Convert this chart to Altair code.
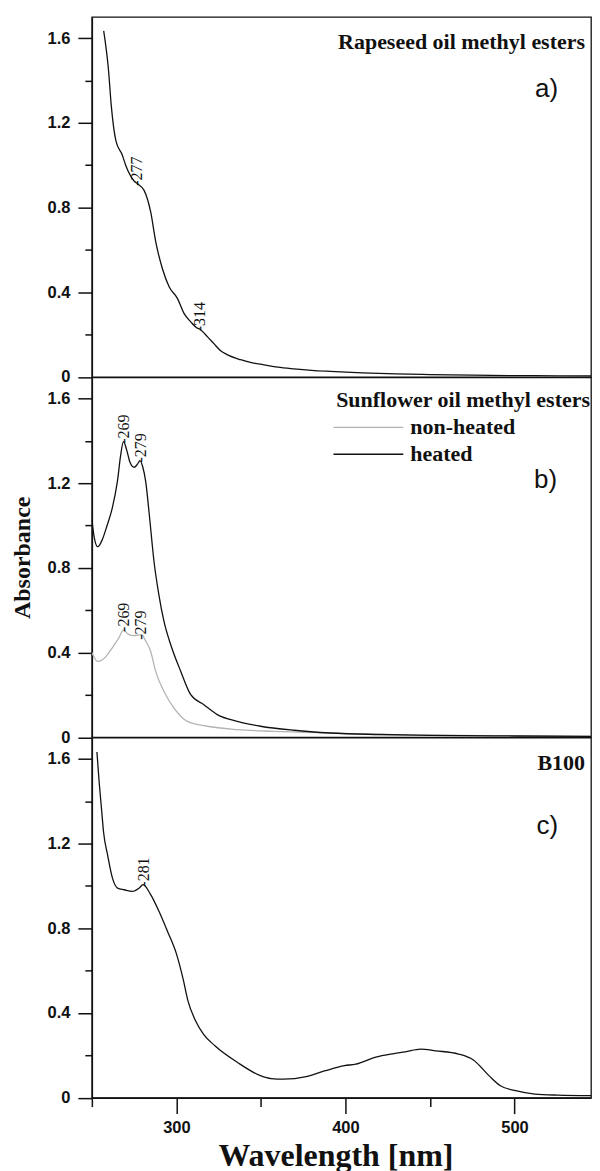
import altair as alt
import pandas as pd

# ---------------- data ----------------
# a) Rapeseed oil methyl esters
rape_nm = [257, 259.8, 261.5, 264.2, 268.1, 270, 273, 275, 277, 280.9,
           284.8, 287.8, 291.7, 295.7, 300.6, 304.5, 308.5, 312.4, 314, 316,
           318.3, 322.2, 326, 330, 338, 345, 351.7, 360, 369.5, 380,
           391, 410, 430, 450, 475, 500, 525, 550]
rape_abs = [1.634, 1.453, 1.28, 1.116, 1.046, 1.0, 0.948, 0.925, 0.912, 0.881,
            0.779, 0.638, 0.512, 0.426, 0.371, 0.30, 0.26, 0.23, 0.225, 0.21,
            0.19, 0.157, 0.125, 0.105, 0.081, 0.066, 0.057, 0.046, 0.038, 0.031,
            0.026, 0.019, 0.014, 0.011, 0.008, 0.006, 0.005, 0.004]
rape_peak_nm = [277, 314]
rape_peak_abs = [0.912, 0.225]

# b) Sunflower oil methyl esters
heated_nm = [250, 251.5, 253.5, 256, 259, 262, 265.2, 267, 268.7, 270.5,
             272.5, 275, 277, 278.5, 280, 281.9, 284, 286.8, 289.5, 292.7,
             296.7, 302.6, 308.5, 316.3, 324.2, 336, 349.8, 369.5, 391, 420,
             450, 500, 550]
heated_abs = [1.03, 0.94, 0.9, 0.93, 1.0, 1.08, 1.213, 1.33, 1.396, 1.36,
              1.30, 1.275, 1.29, 1.307, 1.28, 1.205, 1.05, 0.828, 0.68, 0.546,
              0.436, 0.311, 0.201, 0.154, 0.107, 0.075, 0.052, 0.033, 0.02, 0.013,
              0.009, 0.006, 0.004]
nonheated_nm = [250, 253.4, 256, 258.3, 261, 263.2, 266, 268.7, 271, 274,
                277, 279.5, 281.5, 284.8, 287.8, 292.7, 298.6, 306.5, 318.3, 336,
                357.6, 391, 420, 450, 500, 550]
nonheated_abs = [0.40, 0.358, 0.365, 0.381, 0.41, 0.436, 0.47, 0.507, 0.49, 0.48,
                 0.482, 0.485, 0.46, 0.405, 0.31, 0.216, 0.138, 0.075, 0.052, 0.036,
                 0.028, 0.02, 0.014, 0.01, 0.006, 0.004]
heated_peak_nm = [269, 279]
heated_peak_abs = [1.396, 1.307]
nonheated_peak_nm = [269, 279]
nonheated_peak_abs = [0.507, 0.47]
legend_labels = ["non-heated", "heated"]

# c) B100
b100_nm = [253, 254.3, 255.7, 256.9, 259.3, 262.2, 265.2, 269.1, 274, 278,
           280.3, 284.8, 289.7, 294.7, 300, 304, 306.9, 311.4, 316, 322.8,
           336.2, 349.7, 356, 363.3, 376.8, 388.1, 399.4, 406.1, 417.4, 428.7,
           435.4, 444.4, 453.4, 466.9, 475.9, 484.9, 491.7, 500.7, 512, 525.5, 550]
b100_abs = [1.633, 1.492, 1.366, 1.256, 1.147, 1.037, 0.99, 0.982, 0.974, 0.99,
            1.006, 0.959, 0.88, 0.786, 0.68, 0.56, 0.456, 0.362, 0.30, 0.245,
            0.166, 0.104, 0.09, 0.087, 0.099, 0.127, 0.151, 0.158, 0.19, 0.208,
            0.216, 0.229, 0.221, 0.206, 0.177, 0.104, 0.056, 0.033, 0.017, 0.012, 0.009]
b100_peak_nm = [281]
b100_peak_abs = [1.006]

y_tick_values = [0, 0.2, 0.4, 0.6, 0.8, 1.0, 1.2, 1.4, 1.6]
x_tick_values = [250, 300, 350, 400, 450, 500, 550]

# ---------------- styling ----------------
# 508 px per 300 nm as in the reference; the figure is cropped at the right
W = 500
X_MAX = 250 + W * 300 / 508
H = 360.5
BLACK = "#111111"
GRAY = "#b4b4b4"
SERIF = "Liberation Serif"
SANS = "Liberation Sans"


def x_enc(show_axis=False):
    scale = alt.Scale(domain=[250, X_MAX], nice=False, zero=False)
    if not show_axis:
        return alt.X("nm:Q", scale=scale, axis=None)
    ax = alt.Axis(
        values=x_tick_values,
        labelExpr="datum.value % 100 == 0 ? format(datum.value, 'd') : ''",
        tickSize={"condition": {"test": "datum.value % 100 == 0", "value": 16}, "value": 9},
        labelPadding=6,
        title="Wavelength [nm]",
        titleFont=SERIF, titleFontSize=32, titleFontWeight="bold",
        titleColor=BLACK, titleX=244, titleY=67.5,
        titleAlign="center", titleBaseline="alphabetic",
    )
    return alt.X("nm:Q", scale=scale, axis=ax)


def y_enc(title=False):
    scale = alt.Scale(domain=[0, 1.7], nice=False, zero=True)
    kw = dict(
        values=y_tick_values,
        labelExpr="round(datum.value*10) % 4 == 0 ? (datum.value == 0 ? '0' : format(datum.value, '.1f')) : ''",
        tickSize={"condition": {"test": "round(datum.value*10) % 4 == 0", "value": 14}, "value": 7},
        labelPadding=8,
    )
    if title:
        kw.update(title="Absorbance", titleFont=SERIF, titleFontSize=24,
                  titleFontWeight="bold", titleColor=BLACK, titleAngle=270,
                  titleX=-69, titleY=H / 2, titleAlign="center",
                  titleBaseline="middle")
        return alt.Y("abs:Q", scale=scale, axis=alt.Axis(**kw))
    return alt.Y("abs:Q", scale=scale, axis=alt.Axis(**kw), title=None)


def curve(nm, ab, color, xe, ye):
    df = pd.DataFrame({"nm": nm, "abs": ab})
    return alt.Chart(df).mark_line(color=color, strokeWidth=1.3, clip=True,
                                   interpolate="monotone").encode(x=xe, y=ye)


def peaks(nm, ab, xe, ye):
    df = pd.DataFrame({"nm": nm, "abs": ab, "lab": ["-" + str(v) for v in nm]})
    return alt.Chart(df).mark_text(angle=270, align="left", baseline="middle",
                                   font=SERIF, fontSize=16, color=BLACK,
                                   dx=-2).encode(x=xe, y=ye, text="lab:N")


def note(text, x, y, font, size, weight="normal", align="right"):
    df = pd.DataFrame({"t": [text]})
    return alt.Chart(df).mark_text(font=font, fontSize=size, fontWeight=weight,
                                   align=align, baseline="alphabetic",
                                   color=BLACK).encode(
        x=alt.value(x), y=alt.value(y), text="t:N")


def legend_line(color, y):
    df = pd.DataFrame({"k": [0]})
    return alt.Chart(df).mark_rule(color=color, strokeWidth=1.3).encode(
        x=alt.value(242), x2=alt.value(312), y=alt.value(y))


# panel a
xa, ya = x_enc(False), y_enc(False)
panel_a = alt.layer(
    curve(rape_nm, rape_abs, BLACK, xa, ya),
    peaks(rape_peak_nm, rape_peak_abs, xa, ya),
    note("Rapeseed oil methyl esters", 494, 32, SERIF, 22, "bold"),
    note("a)", 467, 80, SANS, 26),
).properties(width=W, height=H)

# panel b
xb, yb = x_enc(False), y_enc(True)
panel_b = alt.layer(
    curve(nonheated_nm, nonheated_abs, GRAY, xb, yb),
    curve(heated_nm, heated_abs, BLACK, xb, yb),
    peaks(heated_peak_nm, heated_peak_abs, xb, yb),
    peaks(nonheated_peak_nm, nonheated_peak_abs, xb, yb),
    note("Sunflower oil methyl esters", 499, 30, SERIF, 22, "bold"),
    legend_line(GRAY, 50),
    legend_line(BLACK, 77),
    note(legend_labels[0], 319, 57, SERIF, 22, "bold", "left"),
    note(legend_labels[1], 319, 84, SERIF, 22, "bold", "left"),
    note("b)", 466, 111, SANS, 26),
).properties(width=W, height=H)

# panel c
xc, yc = x_enc(True), y_enc(False)
panel_c = alt.layer(
    curve(b100_nm, b100_abs, BLACK, xc, yc),
    peaks(b100_peak_nm, b100_peak_abs, xc, yc),
    note("B100", 494, 32, SERIF, 22, "bold"),
    note("c)", 467, 96, SANS, 26),
).properties(width=W, height=H)

chart = alt.vconcat(panel_a, panel_b, panel_c, spacing=0, bounds="flush").properties(
    padding={"left": 2, "top": 7, "right": 0, "bottom": 0}
).configure_view(
    stroke=BLACK, strokeWidth=1.3
).configure_axis(
    grid=False, domainColor=BLACK, domainWidth=1.5, tickColor=BLACK,
    tickWidth=1.5, labelFont=SANS, labelFontWeight="bold", labelFontSize=16.5,
    labelColor=BLACK
)

chart.save("out.html", embed_options={"renderer": "svg", "actions": False})
